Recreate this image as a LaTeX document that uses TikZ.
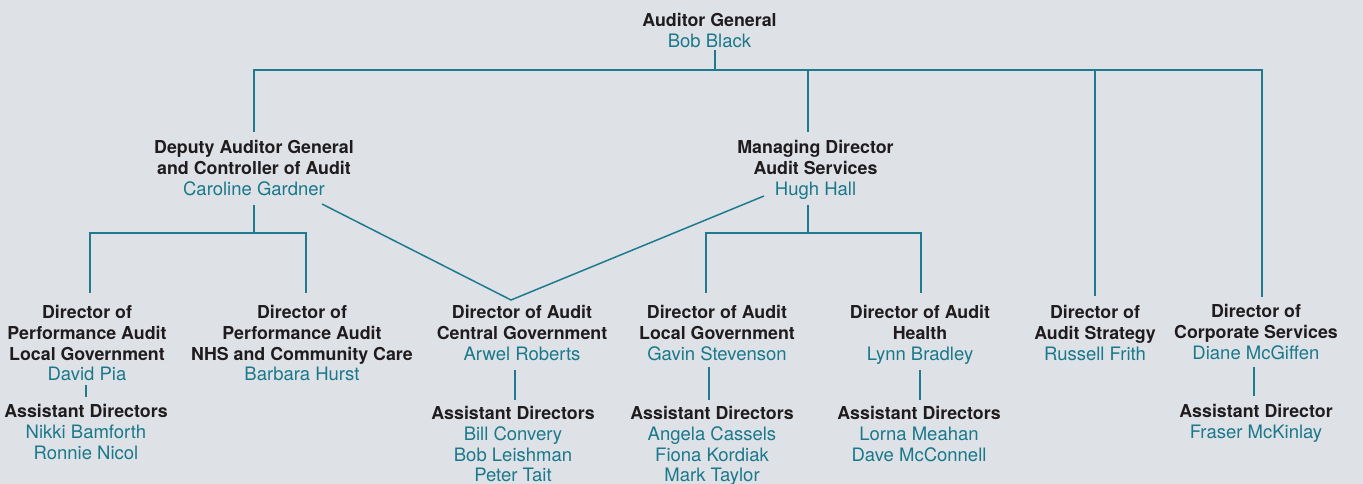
\documentclass[tikz,border=0pt]{standalone}
\usepackage{fontspec}
\setmainfont{TeX Gyre Heros}
\definecolor{bgfill}{HTML}{DEE2E7}
\definecolor{inktext}{HTML}{201C1D}
\definecolor{staffteal}{HTML}{1A788A}
\definecolor{linkteal}{HTML}{1F7A8E}
% person's name under a job title
\newcommand\pname[1]{{\mdseries\fontsize{18.5}{20.7}\selectfont\color{staffteal}#1}}
\begin{document}
\begin{tikzpicture}[x=1pt,y=-1pt,
  block/.style={anchor=north, align=center, inner sep=0pt, outer sep=0pt,
    text=inktext, font=\fontsize{17.8}{20.7}\selectfont\bfseries},
  link/.style={draw=linkteal, line width=1.5pt, line join=miter}]
\fill[bgfill] (0,0) rectangle (1363,484);
\useasboundingbox (0,0) rectangle (1363,484);

% top level
\node[block] (ag) at (709.5,13.4) {Auditor General\\\pname{Bob Black}};

% second level
\node[block] (dag) at (254,140.4) {Deputy Auditor General\\and Controller of Audit\\\pname{Caroline Gardner}};
\node[block] (md) at (815.5,140.4) {Managing Director\\Audit Services\\\pname{Hugh Hall}};

% directors
\node[block] (dpl) at (87,305.4) {Director of\\Performance Audit\\Local Government\\\pname{David Pia}};
\node[block] (dpn) at (302,305.4) {Director of\\Performance Audit\\NHS and Community Care\\\pname{Barbara Hurst}};
\node[block] (dcg) at (522,305.4) {Director of Audit\\Central Government\\\pname{Arwel Roberts}};
\node[block] (dlg) at (717,305.4) {Director of Audit\\Local Government\\\pname{Gavin Stevenson}};
\node[block] (dh) at (920,305.4) {Director of Audit\\Health\\\pname{Lynn Bradley}};
\node[block] (ds) at (1095,305.4) {Director of\\Audit Strategy\\\pname{Russell Frith}};
\node[block] (dcs) at (1256,304.4) {Director of\\Corporate Services\\\pname{Diane McGiffen}};

% assistant directors
\node[block] (adl) at (86,404.4) {Assistant Directors\\\pname{Nikki Bamforth}\\\pname{Ronnie Nicol}};
\node[block] (adc) at (513,406.4) {Assistant Directors\\\pname{Bill Convery}\\\pname{Bob Leishman}\\\pname{Peter Tait}};
\node[block] (adlg) at (712,406.4) {Assistant Directors\\\pname{Angela Cassels}\\\pname{Fiona Kordiak}\\\pname{Mark Taylor}};
\node[block] (adh) at (919,406.4) {Assistant Directors\\\pname{Lorna Meahan}\\\pname{Dave McConnell}};
\node[block] (adcs) at (1256,404.4) {Assistant Director\\\pname{Fraser McKinlay}};

% connector end points
\coordinate (ag-out) at (715,50);
\coordinate (bus-mid) at (715,70);
\coordinate (bus-l) at (254,70);
\coordinate (bus-r) at (1262,70);
\coordinate (dag-in) at (254,132);
\coordinate (md-in) at (808,132);
\coordinate (ds-in) at (1095,296);
\coordinate (dcs-in) at (1262,297);

\coordinate (dag-out) at (254,205);
\coordinate (dag-bus) at (254,233);
\coordinate (dpl-in) at (90,293);
\coordinate (dpn-in) at (306,293);

\coordinate (md-out) at (808,205);
\coordinate (md-bus) at (808,233);
\coordinate (dlg-in) at (706,293);
\coordinate (dh-in) at (921,293);

\coordinate (dag-diag) at (322,204);
\coordinate (md-diag) at (764,196);
\coordinate (dcg-in) at (511,300);

\coordinate (dpl-out) at (86,385);
\coordinate (adl-in) at (86,397);
\coordinate (dcg-out) at (515,370);
\coordinate (adc-in) at (515,400);
\coordinate (dlg-out) at (709,367);
\coordinate (adlg-in) at (709,400);
\coordinate (dh-out) at (920,370);
\coordinate (adh-in) at (920,400);
\coordinate (dcs-out) at (1254,367);
\coordinate (adcs-in) at (1254,396);

% reporting lines
\draw[link] (ag-out) -- (bus-mid);
\draw[link] (dag-in) -- (bus-l) -- (bus-r) -- (dcs-in);
\draw[link] (md-in) -- (md-in |- bus-mid);
\draw[link] (ds-in) -- (ds-in |- bus-mid);

\draw[link] (dag-out) -- (dag-bus);
\draw[link] (dpl-in) |- (dpn-in |- dag-bus) -- (dpn-in);

\draw[link] (md-out) -- (md-bus);
\draw[link] (dlg-in) |- (dh-in |- md-bus) -- (dh-in);

\draw[link] (dag-diag) -- (dcg-in) -- (md-diag);

\draw[link] (dpl-out) -- (adl-in);
\draw[link] (dcg-out) -- (adc-in);
\draw[link] (dlg-out) -- (adlg-in);
\draw[link] (dh-out) -- (adh-in);
\draw[link] (dcs-out) -- (adcs-in);
\end{tikzpicture}
\end{document}
